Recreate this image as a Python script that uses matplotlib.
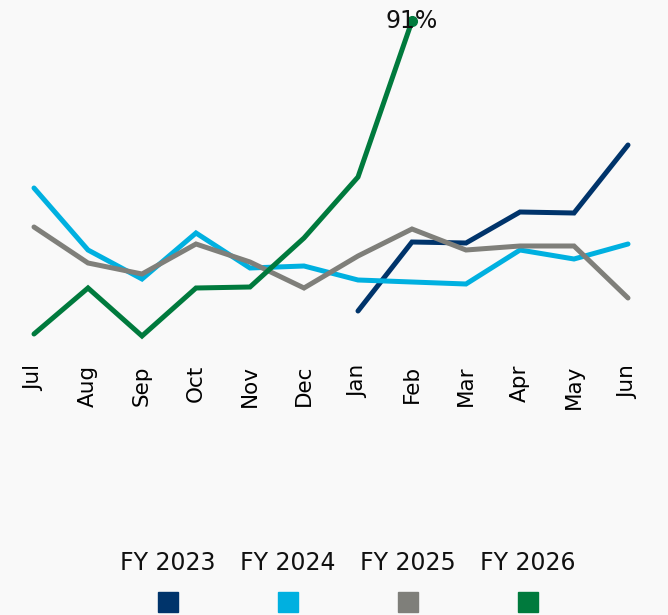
import matplotlib

matplotlib.use("Agg")
import matplotlib.pyplot as plt
from matplotlib.patches import Rectangle

plt.rcParams['font.family'] = ['DejaVu Sans']

months = ['Jul', 'Aug', 'Sep', 'Oct', 'Nov', 'Dec', 'Jan', 'Feb', 'Mar', 'Apr', 'May', 'Jun']

fy2023 = [None, None, None, None, None, None, 18.5, 35.75, 35.5, 43.25, 43.0, 60.0]
fy2024 = [49.25, 33.75, 26.5, 38.0, 29.25, 29.75, 26.25, 25.75, 25.25, 33.75, 31.5, 35.25]
fy2025 = [39.5, 30.5, 27.75, 35.25, 30.75, 24.25, 32.25, 39.0, 33.75, 34.75, 34.75, 21.75]
fy2026 = [12.75, 24.25, 12.25, 24.25, 24.5, 36.75, 52.0, 91.0]

series = ['FY 2023', 'FY 2024', 'FY 2025', 'FY 2026']
colors = ['#00346b', '#00b0e0', '#7f7f7a', '#007a3d']

bg = '#f9f9f9'
fig = plt.figure(figsize=(6.68, 6.15), dpi=100, facecolor=bg)
ax = fig.add_axes([34 / 668, 1 - 340 / 615, 594 / 668, 319 / 615])
ax.set_facecolor(bg)

for vals, c in zip([fy2023, fy2024, fy2025, fy2026], colors):
    xs = [i for i, v in enumerate(vals) if v is not None]
    ys = [v for v in vals if v is not None]
    ax.plot(xs, ys, color=c, lw=3.6, solid_capstyle='round', solid_joinstyle='miter', clip_on=False)

# last point of FY 2026 with label
last = len(fy2026) - 1
ax.plot(last, fy2026[last], 'o', color=colors[3], ms=7, clip_on=False)
ax.text(last, fy2026[last], '{:.0f}%'.format(fy2026[last]), ha='center', va='center', fontsize=17, color='#111111')

ax.set_xlim(0, 11)
ax.set_ylim(11.25, 91)
ax.set_xticks(range(len(months)))
ax.set_xticklabels(months, rotation=90, fontsize=15.5, va='top', ha='center')
ax.tick_params(axis='x', length=0, pad=18)
ax.set_yticks([])
for s in ax.spines.values():
    s.set_visible(False)

# legend: labels above colour squares
for i, (name, c) in enumerate(zip(series, colors)):
    cx = (168 + 120 * i) / 668
    fig.text(cx, 1 - 563 / 615, name, ha='center', va='center', fontsize=17, color='#111111')
    w = 20 / 668
    h = 20 / 615
    fig.add_artist(Rectangle((cx - w / 2, 1 - 612 / 615), w, h, transform=fig.transFigure, color=c))

plt.savefig('out.png', dpi=100, facecolor=bg)
